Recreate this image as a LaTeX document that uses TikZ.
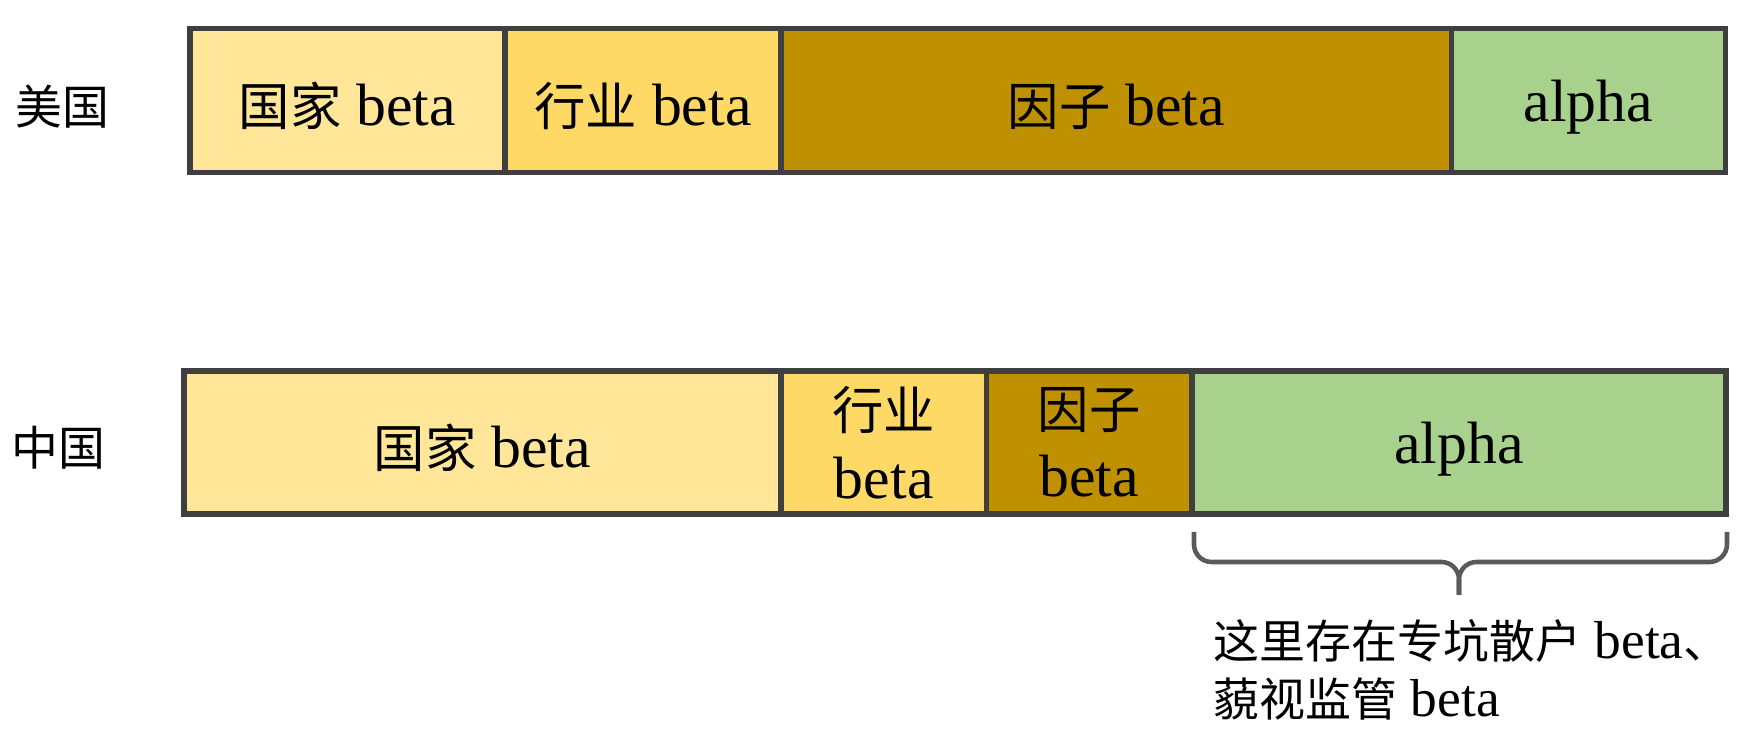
\documentclass[tikz,border=0pt]{standalone}
\usepackage{fontspec}
\setmainfont{Liberation Serif}
\newfontfamily\cjk[Scale=0.86]{Noto Sans CJK SC}
\usepackage{xcolor}
\usepackage{tikz}
\usetikzlibrary{positioning, calc}

\definecolor{edgegray}{HTML}{3F3F3F}
\definecolor{bracegray}{HTML}{5A5A5A}
\definecolor{countryfill}{HTML}{FFE699}
\definecolor{industryfill}{HTML}{FFD966}
\definecolor{factorfill}{HTML}{BF9000}
\definecolor{alphafill}{HTML}{A9D18E}

\begin{document}
\begin{tikzpicture}[
  seg_box/.style={draw=edgegray, line width=1.6pt, rectangle, minimum height=1.44cm, inner sep=0pt, outer sep=0pt, align=center, font=\fontsize{17}{19.5}\selectfont, execute at begin node={\rule{0pt}{15.5pt}}},
  country_box/.style={seg_box, fill=countryfill},
  industry_box/.style={seg_box, fill=industryfill},
  factor_box/.style={seg_box, fill=factorfill},
  alpha_box/.style={seg_box, fill=alphafill},
  row_label/.style={inner sep=0pt, font=\fontsize{15.5}{17}\selectfont},
  brace_line/.style={draw=bracegray, line width=1.3pt, rounded corners=5pt}
]
  \useasboundingbox (0,0) rectangle (17.51,-7.43);

  % US: beta decomposition
  \node (uscountry) [country_box, minimum width=3.15cm, anchor=west] at (1.90,-1.005) {\cjk 国家\normalfont{} beta};
  \node (usindustry) [industry_box, minimum width=2.76cm, right=0pt of uscountry] {\cjk 行业\normalfont{} beta};
  \node (usfactor) [factor_box, minimum width=6.705cm, right=0pt of usindustry] {\cjk 因子\normalfont{} beta};
  \node (usalpha) [alpha_box, minimum width=2.74cm, right=0pt of usfactor] {alpha};
  \node (us) [row_label, left=0.80cm of uscountry, yshift=-0.06cm] {\cjk 美国};

  % China: beta decomposition
  \node (cncountry) [country_box, minimum width=5.97cm, minimum height=1.43cm, anchor=west] at (1.84,-4.425) {\cjk 国家\normalfont{} beta};
  \node (cnindustry) [industry_box, minimum width=2.055cm, minimum height=1.43cm, right=0pt of cncountry] {\cjk 行业\\beta};
  \node (cnfactor) [factor_box, minimum width=2.055cm, minimum height=1.43cm, right=0pt of cnindustry] {\cjk 因子\\beta};
  \node (cnalpha) [alpha_box, minimum width=5.34cm, minimum height=1.43cm, right=0pt of cnfactor] {alpha};
  \node (cn) [row_label, left=0.78cm of cncountry, yshift=-0.05cm] {\cjk 中国};

  % Brace under China alpha
  \coordinate (tip) at ($(cnalpha.south)+(0,-0.81)$);
  \draw[brace_line] ($(cnalpha.south west)+(0.02,-0.18)$) |- ($(cnalpha.south)+(0,-0.48)$) -- (tip);
  \draw[brace_line] ($(cnalpha.south east)+(0.01,-0.18)$) |- ($(cnalpha.south)+(0,-0.48)$) -- (tip);
  \node (note) [anchor=west, align=left, inner sep=0pt, font=\fontsize{15.2}{16.5}\selectfont] at (12.13,-6.70)
    {{\cjk 这里存在专坑散户} beta{\cjk 、}\\{\cjk 藐视监管} beta};

\end{tikzpicture}
\end{document}
